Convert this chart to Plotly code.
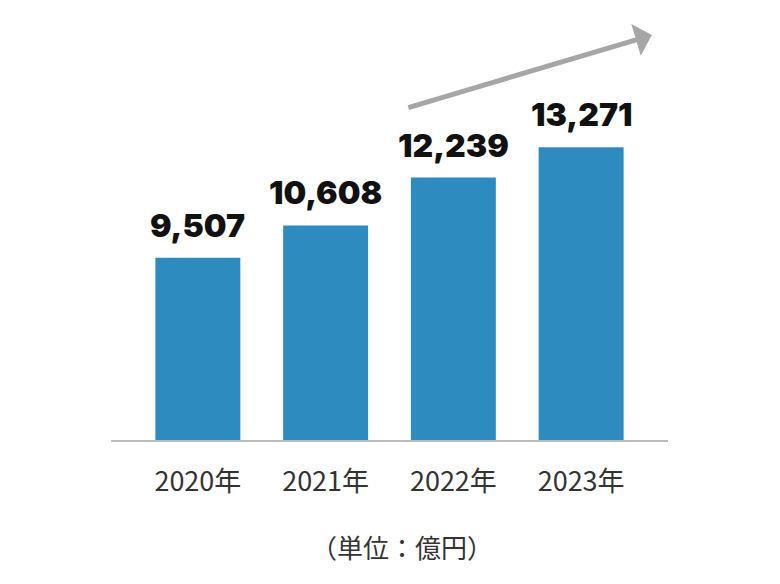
import plotly.graph_objects as go

years = ["2020年", "2021年", "2022年", "2023年"]
sales = [9507, 10608, 12239, 13271]
value_labels = ["9,507", "10,608", "12,239", "13,271"]
unit_label = "（単位：億円）"

bar_color = "#2E8BC0"

fig = go.Figure(go.Bar(
    x=years, y=sales,
    marker=dict(color=bar_color, line=dict(width=0)),
    width=0.665,
    hoverinfo="skip",
))

# value labels above each bar
for yr, v, lab in zip(years, sales, value_labels):
    fig.add_annotation(
        x=yr, y=v, text=lab, showarrow=False,
        yanchor="bottom", yshift=11,
        font=dict(family="Inter, sans-serif", size=32, color="#111111", weight=900),
    )

# growth arrow
fig.add_annotation(
    x=0.971, y=0.964, xref="paper", yref="paper",
    ax=-245, ay=73, axref="pixel", ayref="pixel",
    text="", showarrow=True,
    arrowhead=1, arrowsize=1.1, arrowwidth=5, arrowcolor="#A6A6A6",
)

# unit note
fig.add_annotation(
    x=0.523, y=-0.302, xref="paper", yref="paper",
    text=unit_label, showarrow=False,
    font=dict(family="Noto Sans CJK JP", size=26, color="#333333"),
)

fig.update_layout(
    width=780, height=584,
    margin=dict(l=103, r=120, t=12, b=152),
    plot_bgcolor="white", paper_bgcolor="white",
    showlegend=False,
)
fig.update_xaxes(
    range=[-0.68, 3.68],
    showline=True, linecolor="#BBBBBB", linewidth=2,
    ticks="outside", ticklen=17, tickcolor="rgba(0,0,0,0)",
    tickfont=dict(family="Noto Sans CJK JP", size=27, color="#333333"),
    showgrid=False,
)
fig.update_yaxes(
    range=[3289, 17614],
    visible=False, showgrid=False, zeroline=False,
)

fig.write_html("out.html")
